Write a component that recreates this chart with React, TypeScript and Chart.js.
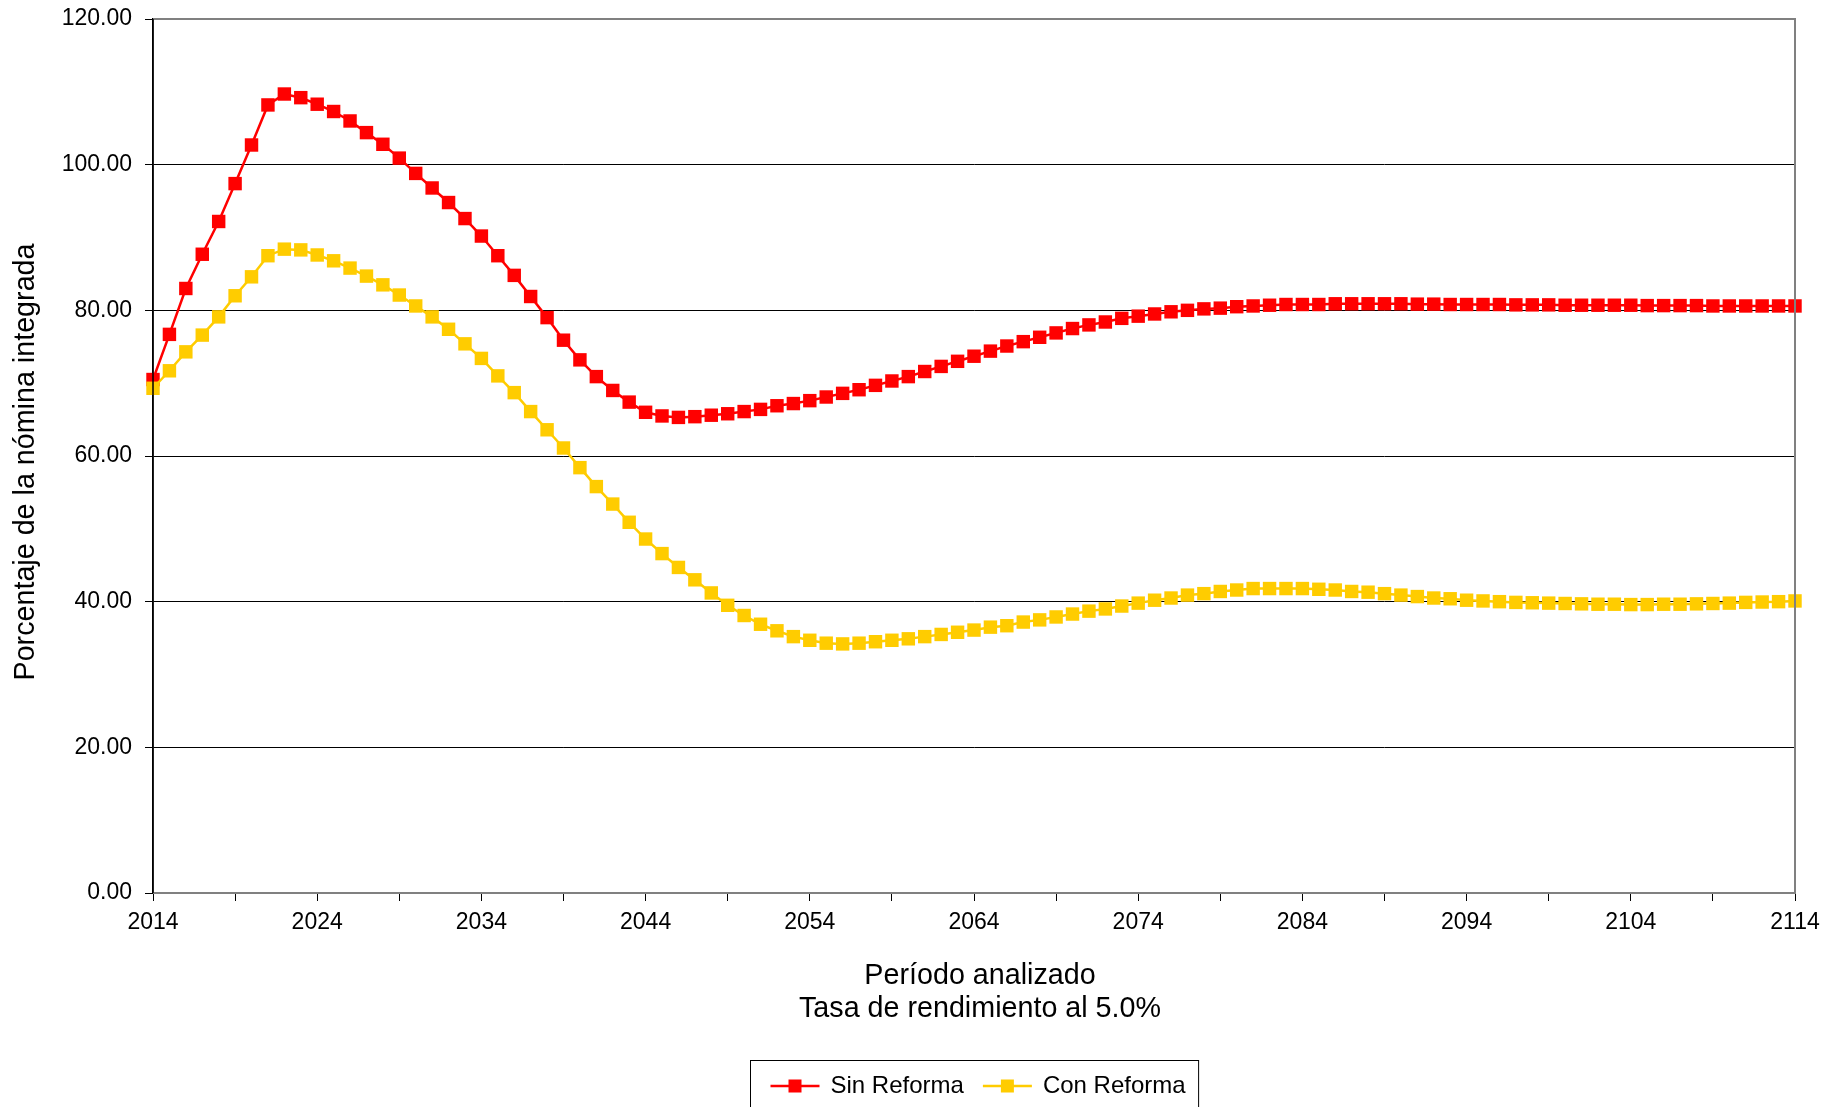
import React, { useEffect, useRef } from "react";
import { Chart, registerables } from "chart.js";

Chart.register(...registerables);

const FIRST_YEAR = 2014;
const LAST_YEAR = 2114;
const years: string[] = Array.from({ length: LAST_YEAR - FIRST_YEAR + 1 }, (_, i) => String(FIRST_YEAR + i));

const xTickLabels = ["2014", "2024", "2034", "2044", "2054", "2064", "2074", "2084", "2094", "2104", "2114"];
const yTickValues = [0, 20, 40, 60, 80, 100, 120];

const seriesNames = ["Sin Reforma", "Con Reforma"];
const xTitleLines = ["Período analizado", "Tasa de rendimiento al 5.0%"];
const yTitle = "Porcentaje de la nómina integrada";

// Sin Reforma, 2014..2114
const sinReforma = [
  70.5, 76.7, 83.0, 87.7, 92.2, 97.4, 102.7, 108.2, 109.7, 109.2,
  108.3, 107.3, 106.0, 104.4, 102.8, 100.9, 98.8, 96.8, 94.8, 92.6,
  90.2, 87.5, 84.8, 81.9, 79.0, 75.9, 73.2, 70.9, 69.0, 67.4,
  66.0, 65.5, 65.3, 65.4, 65.6, 65.8, 66.1, 66.4, 66.9, 67.2,
  67.6, 68.1, 68.6, 69.1, 69.7, 70.3, 70.9, 71.6, 72.3, 73.0,
  73.7, 74.4, 75.1, 75.7, 76.3, 76.9, 77.5, 78.0, 78.4, 78.9,
  79.2, 79.5, 79.8, 80.0, 80.2, 80.3, 80.5, 80.6, 80.7, 80.8,
  80.8, 80.8, 80.9, 80.9, 80.9, 80.9, 80.9, 80.85, 80.85, 80.8,
  80.8, 80.8, 80.8, 80.75, 80.75, 80.75, 80.7, 80.7, 80.7, 80.7,
  80.7, 80.65, 80.65, 80.65, 80.65, 80.6, 80.6, 80.6, 80.6, 80.6,
  80.6,
];

// Con Reforma, 2014..2114
const conReforma = [
  69.3, 71.7, 74.3, 76.6, 79.1, 82.0, 84.6, 87.5, 88.4, 88.3,
  87.6, 86.8, 85.8, 84.7, 83.5, 82.1, 80.6, 79.1, 77.4, 75.4,
  73.4, 71.0, 68.7, 66.1, 63.6, 61.1, 58.4, 55.8, 53.4, 50.9,
  48.6, 46.6, 44.7, 43.0, 41.2, 39.5, 38.1, 36.9, 36.0, 35.2,
  34.7, 34.3, 34.2, 34.3, 34.5, 34.7, 34.9, 35.2, 35.5, 35.8,
  36.1, 36.5, 36.7, 37.2, 37.5, 37.9, 38.3, 38.7, 39.0, 39.4,
  39.8, 40.2, 40.5, 40.9, 41.1, 41.4, 41.6, 41.8, 41.8, 41.8,
  41.8, 41.7, 41.6, 41.4, 41.3, 41.1, 40.9, 40.7, 40.5, 40.4,
  40.2, 40.1, 40.0, 39.9, 39.85, 39.8, 39.75, 39.7, 39.65, 39.65,
  39.6, 39.6, 39.65, 39.65, 39.7, 39.75, 39.8, 39.9, 39.95, 40.0,
  40.1,
];

const RED = "#FF0000";
const YELLOW = "#FFCC00";
const FONT = "'Liberation Sans', Arial, Helvetica, sans-serif";

const framePlugin = {
  id: "frameAndLegend",
  afterDatasetsDraw(chart: any) {
    const { ctx, chartArea: a } = chart;
    ctx.save();
    ctx.strokeStyle = "#808080";
    ctx.lineWidth = 2;
    ctx.beginPath();
    ctx.moveTo(a.left, a.top);
    ctx.lineTo(a.right, a.top);
    ctx.lineTo(a.right, a.bottom);
    ctx.lineTo(a.left, a.bottom);
    ctx.stroke();
    ctx.strokeStyle = "#000";
    ctx.lineWidth = 1.5;
    ctx.beginPath();
    ctx.moveTo(a.left, a.top);
    ctx.lineTo(a.left, a.bottom);
    ctx.stroke();
    ctx.restore();
  },
  afterDraw(chart: any) {
    const { ctx, chartArea: a } = chart;
    const cx = (a.left + a.right) / 2;
    ctx.save();
    // axis titles
    ctx.fillStyle = "#000";
    ctx.font = `28.7px ${FONT}`;
    ctx.textAlign = "center";
    ctx.textBaseline = "middle";
    xTitleLines.forEach((line, i) => {
      ctx.fillText(line, cx + 6, a.bottom + 83 + i * 33);
    });
    ctx.save();
    ctx.translate(26, (a.top + a.bottom) / 2 + 6);
    ctx.rotate(-Math.PI / 2);
    ctx.fillText(yTitle, 0, 0);
    ctx.restore();

    // legend
    const colors = [RED, YELLOW];
    ctx.font = `24px ${FONT}`;
    const padL = 20, lineW = 49, gapT = 11, gapItem = 19, padR = 13;
    const widths = seriesNames.map((n) => ctx.measureText(n).width);
    let total = padL + padR;
    widths.forEach((w, i) => {
      total += lineW + gapT + w + (i < widths.length - 1 ? gapItem : 0);
    });
    const boxLeft = Math.round(cx - total / 2) + 0.5;
    const boxTop = 1060.5;
    const cy = 1086;
    ctx.strokeStyle = "#000";
    ctx.lineWidth = 1;
    ctx.strokeRect(boxLeft, boxTop, total, 80);
    let x = boxLeft + padL;
    seriesNames.forEach((name, i) => {
      ctx.strokeStyle = colors[i];
      ctx.lineWidth = 2.5;
      ctx.beginPath();
      ctx.moveTo(x, cy);
      ctx.lineTo(x + lineW, cy);
      ctx.stroke();
      ctx.fillStyle = colors[i];
      const s = 13;
      ctx.fillRect(x + lineW / 2 - s / 2, cy - s / 2, s, s);
      ctx.fillStyle = "#000";
      ctx.textAlign = "left";
      ctx.textBaseline = "middle";
      ctx.fillText(name, x + lineW + gapT, cy);
      x += lineW + gapT + widths[i] + gapItem;
    });
    ctx.restore();
  },
};

export default function App() {
  const canvasRef = useRef<HTMLCanvasElement | null>(null);

  useEffect(() => {
    const canvas = canvasRef.current;
    if (!canvas) return;
    const tickFont = { family: FONT, size: 23 };
    const chart = new Chart(canvas, {
      type: "line",
      data: {
        labels: years,
        datasets: [
          {
            label: seriesNames[0],
            data: sinReforma,
            borderColor: RED,
            backgroundColor: RED,
            borderWidth: 2.5,
            pointStyle: "rect",
            pointRadius: 9.5,
            pointBorderWidth: 0,
            pointBackgroundColor: RED,
            tension: 0,
            clip: false,
            order: 1,
          },
          {
            label: seriesNames[1],
            data: conReforma,
            borderColor: YELLOW,
            backgroundColor: YELLOW,
            borderWidth: 2.5,
            pointStyle: "rect",
            pointRadius: 9.5,
            pointBorderWidth: 0,
            pointBackgroundColor: YELLOW,
            tension: 0,
            clip: false,
            order: 0,
          },
        ],
      },
      options: {
        responsive: false,
        animation: false,
        events: [],
        layout: { padding: { left: 0, right: 48, top: 19, bottom: 77 } },
        plugins: {
          legend: { display: false },
          tooltip: { enabled: false },
          title: { display: false },
        },
        scales: {
          x: {
            type: "category",
            offset: false,
            ticks: {
              autoSkip: false,
              maxRotation: 0,
              minRotation: 0,
              padding: 8,
              color: "#000",
              font: tickFont,
              callback: (_v: any, i: number) => (xTickLabels.includes(years[i]) ? years[i] : ""),
            },
            grid: {
              display: true,
              drawOnChartArea: false,
              drawTicks: true,
              tickLength: 8,
              tickWidth: 1,
              tickColor: (c: any) => (c.index % 5 === 0 ? "#000" : "rgba(0,0,0,0)"),
            },
            border: { display: true, color: "#808080", width: 2 },
            title: { display: false },
            afterFit: (s: any) => {
              s.height = 137;
              s.paddingLeft = 0;
              s.paddingRight = 0;
            },
          },
          y: {
            min: 0,
            max: 120,
            afterBuildTicks: (s: any) => {
              s.ticks = yTickValues.map((v) => ({ value: v }));
            },
            ticks: {
              padding: 13,
              color: "#000",
              font: tickFont,
              callback: (v: any) => Number(v).toFixed(2),
            },
            grid: {
              color: "#000",
              lineWidth: 1,
              drawTicks: true,
              tickLength: 8,
              tickColor: "#000",
            },
            border: { display: true, color: "#000", width: 1.5 },
            title: { display: false },
            afterFit: (s: any) => {
              s.width = 153;
              s.paddingTop = 0;
              s.paddingBottom = 0;
            },
          },
        },
      },
      plugins: [framePlugin],
    } as any);
    return () => chart.destroy();
  }, []);

  return (
    <div style={{ position: "absolute", left: 0, top: 0, width: 1843, height: 1107, background: "#fff" }}>
      <canvas ref={canvasRef} width={1843} height={1107} style={{ display: "block" }} />
    </div>
  );
}
